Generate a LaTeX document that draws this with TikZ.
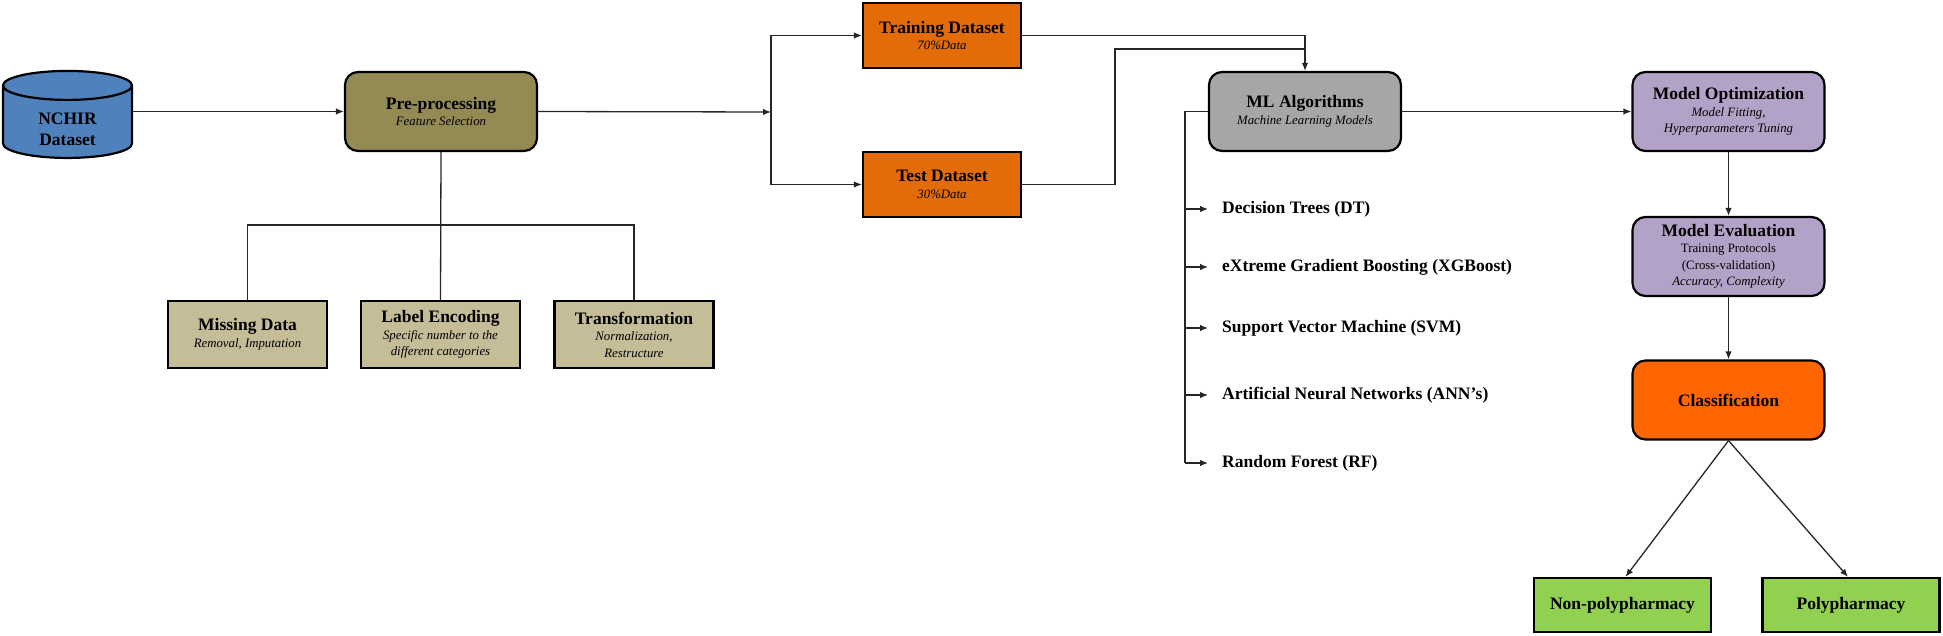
\documentclass[tikz,border=0pt]{standalone}
\usepackage{fontspec}
\setmainfont{Liberation Serif}
\usetikzlibrary{shapes.geometric,arrows.meta}
\definecolor{dbblue}{HTML}{4F81BD}
\definecolor{preolive}{HTML}{948A54}
\definecolor{subtan}{HTML}{C4BD97}
\definecolor{splitorange}{HTML}{E36C09}
\definecolor{algogray}{HTML}{A6A6A6}
\definecolor{modelpurple}{HTML}{B3A2C7}
\definecolor{classorange}{HTML}{FF6600}
\definecolor{resgreen}{HTML}{92D050}
\newcommand{\headline}[1]{{\fontsize{17.5}{20}\selectfont\bfseries #1}}
\newcommand{\subline}[1]{{\fontsize{12.8}{15.5}\selectfont\itshape #1}}
\newcommand{\plainline}[1]{{\fontsize{12.8}{15.5}\selectfont #1}}

\begin{document}
\begin{tikzpicture}[
      x=1pt,y=-1pt,>={Latex[length=8pt,width=6.5pt]},
      pointer/.style={line width=1.3pt, ->,draw=black!85},
      link/.style={line width=1.3pt,draw=black!85},
      every node/.style={align=center,inner sep=1pt,font=\fontsize{12.8}{16.5}\selectfont},
      roundbox/.style={rectangle,rounded corners=13pt,line width=2.2pt,draw=black,minimum width=192pt,minimum height=79pt},
      modelbox/.style={roundbox,fill=modelpurple},
      subbox/.style={rectangle,line width=2.2pt,draw=black,fill=subtan,minimum width=159pt,minimum height=67pt},
      splitbox/.style={rectangle,line width=2.2pt,draw=black,fill=splitorange,minimum width=158pt,minimum height=65pt},
      resultbox/.style={rectangle,line width=2.2pt,draw=black,fill=resgreen,minimum width=177pt,minimum height=54pt},
      algolabel/.style={anchor=west,inner sep=0pt,font=\fontsize{17.5}{20}\selectfont\bfseries}
      ]
      \useasboundingbox (0,0) rectangle (1943,636);
      \node[cylinder,shape border rotate=90,aspect=0.48,draw=black,line width=2.2pt,fill=dbblue,cylinder uses custom fill,
        cylinder body fill=dbblue,cylinder end fill=dbblue,minimum width=129pt,minimum height=87pt] (nchir) at (67.5,123.5) {\raisebox{-11pt}[0pt][0pt]{\begin{tabular}{@{}c@{}}\headline{NCHIR}\\[4.5pt]\headline{Dataset}\end{tabular}}};
      \node[roundbox,fill=preolive] (prep) at (441,111.5) {\headline{Pre-processing}\\\subline{Feature Selection}};
      \node[subbox] (missing) at (247.5,334.5) {\headline{Missing Data}\\\subline{Removal, Imputation}};
      \node[subbox] (encoding) at (440.5,334.5) {\headline{Label Encoding}\\\subline{Specific number to the}\\\subline{different categories}};
      \node[subbox] (transform) at (634,334.5) {\headline{Transformation}\\\subline{Normalization,}\\\subline{Restructure}};
      \node[splitbox] (train) at (942,35.5) {\headline{Training Dataset}\\\subline{70\%Data}};
      \node[splitbox] (test) at (942,184.5) {\headline{Test Dataset}\\\subline{30\%Data}};
      \node[roundbox,fill=algogray] (algos) at (1305,111.5) {\headline{ML Algorithms}\\\subline{Machine Learning Models}};
      \node[modelbox] (optim) at (1728.5,111.5) {\headline{Model Optimization}\\\subline{Model Fitting,}\\\subline{Hyperparameters Tuning}};
      \node[modelbox] (eval) at (1728.5,256.5) {\headline{Model Evaluation}\\\plainline{Training Protocols}\\\plainline{(Cross-validation)}\\\subline{Accuracy, Complexity}};
      \node[modelbox,fill=classorange] (classif) at (1728.5,400) {\headline{Classification}};
      \node[resultbox] (nonpoly) at (1622.5,605) {\headline{Non-polypharmacy}};
      \node[resultbox] (poly) at (1851,605) {\headline{Polypharmacy}};

      \node[algolabel] (dt) at (1222,209) {Decision Trees (DT)};
      \node[algolabel] (xgb) at (1222,267) {eXtreme Gradient Boosting (XGBoost)};
      \node[algolabel] (svm) at (1222,328) {Support Vector Machine (SVM)};
      \node[algolabel] (ann) at (1222,395) {Artificial Neural Networks (ANN's)};
      \node[algolabel] (rf) at (1222,463) {Random Forest (RF)};

      \coordinate (fork) at (771,112);
      \coordinate (drop) at (1305,49);
      \coordinate (rail) at (1185,111.5);
      \coordinate (bar) at (440.5,225);

      \path (nchir.east |- prep.west) edge [pointer] (prep.west);
      \path (prep.east) edge [pointer] (fork);
      \draw[pointer] (fork) |- (train.west);
      \draw[pointer] (fork) |- (test.west);
      \draw[pointer] (train.east) -| (algos.north);
      \draw[link] (test.east) -| (1115,49) -- (drop);
      \path (algos.east) edge [pointer] (optim.west);
      \path (optim.south) edge [pointer] (eval.north);
      \path (eval.south) edge [pointer] (classif.north);
      \draw[pointer] (classif.south) -- ([xshift=3pt]nonpoly.north);
      \draw[pointer] (classif.south) -- ([xshift=-3pt]poly.north);

      \draw[link] (prep.south) -- (encoding.north);
      \draw[link] (missing.north) |- (bar) -| (transform.north);

      \draw[link] (algos.west) -- (rail) |- (1185,463);
      \foreach \algo in {dt,xgb,svm,ann,rf}
        \draw[pointer] (rail |- \algo.west) -- ([xshift=-14pt]\algo.west);
    \end{tikzpicture}
\end{document}
